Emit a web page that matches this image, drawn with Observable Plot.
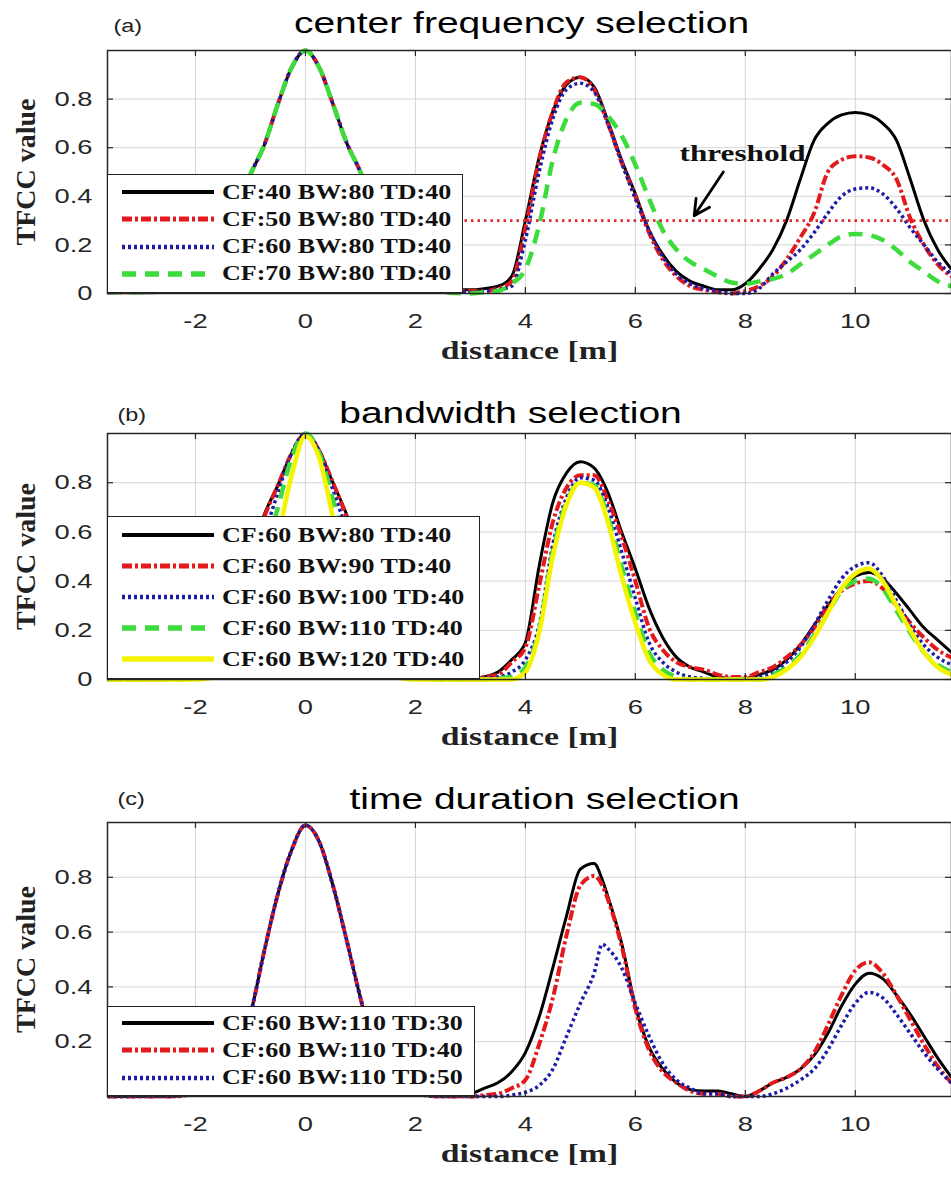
<!DOCTYPE html>
<html><head><meta charset="utf-8">
<script src="https://cdn.jsdelivr.net/npm/d3@7"></script>
<script src="https://cdn.jsdelivr.net/npm/@observablehq/plot@0.6"></script>
<style>
html,body{margin:0;padding:0;background:#fff;}
#page{position:relative;width:951px;height:1178px;overflow:hidden;background:#fff;}
.panel{position:absolute;left:0;}
.legend{position:absolute;background:#fff;border:1.5px solid #222;box-sizing:border-box;}
.row{position:absolute;left:0;display:flex;align-items:center;}
.row span{display:inline-block;font-family:"Liberation Serif","Times New Roman",serif;font-weight:bold;font-size:20px;color:#111;transform:scaleX(1.3);transform-origin:left center;white-space:nowrap;}
</style></head><body><div id="page"></div><script>
// ---------- data ----------
const xTicks = [-2, 0, 2, 4, 6, 8, 10];
const yTicksAB = [0, 0.2, 0.4, 0.6, 0.8];
const yTicksC = [0.2, 0.4, 0.6, 0.8];
const panelTags = ["(a)", "(b)", "(c)"];
const panelTitles = ["center frequency selection", "bandwidth selection", "time duration selection"];
const xLabel = ["distance [m]"];
const yLabel = ["TFCC value"];

const namesA = ["CF:40 BW:80 TD:40", "CF:50 BW:80 TD:40", "CF:60 BW:80 TD:40", "CF:70 BW:80 TD:40"];
const namesB = ["CF:60 BW:80 TD:40", "CF:60 BW:90 TD:40", "CF:60 BW:100 TD:40", "CF:60 BW:110 TD:40", "CF:60 BW:120 TD:40"];
const namesC = ["CF:60 BW:110 TD:30", "CF:60 BW:110 TD:40", "CF:60 BW:110 TD:50"];

const distAB = [-3.6,-3,-2.5,-2,-1.75,-1.5,-1.25,-1,-0.75,-0.5,-0.25,0,0.25,0.5,0.75,1,1.25,1.5,1.75,2,2.5,3,3.25,3.5,3.75,4,4.25,4.5,4.75,5,5.25,5.5,5.75,6,6.25,6.5,6.75,7,7.25,7.5,7.75,8,8.25,8.5,8.75,9,9.25,9.5,9.75,10,10.25,10.5,10.75,11,11.25,11.5,11.75];
const distC = [-3.6,-3,-2.5,-2,-1.75,-1.5,-1.25,-1,-0.75,-0.5,-0.25,0,0.25,0.5,0.75,1,1.25,1.5,1.75,2,2.5,3,3.25,3.5,3.75,4,4.25,4.5,4.75,5,5.25,5.4,5.5,5.75,6,6.25,6.5,6.75,7,7.25,7.5,7.75,8,8.25,8.5,8.75,9,9.25,9.5,9.75,10,10.25,10.5,10.75,11,11.25,11.5,11.75];

// (a) center frequency
const cf40 = [0.005,0.005,0.01,0.04,0.1,0.2,0.34,0.49,0.61,0.78,0.93,1.0,0.93,0.78,0.62,0.5,0.35,0.2,0.1,0.04,0.015,
  0.015,0.02,0.03,0.07,0.3,0.56,0.75,0.86,0.89,0.85,0.71,0.55,0.41,0.26,0.16,0.09,0.05,0.03,0.015,0.015,0.04,0.1,0.18,0.3,0.47,0.63,0.7,0.735,0.745,0.735,0.7,0.63,0.47,0.3,0.18,0.1];
const cf50 = [0.005,0.005,0.01,0.04,0.1,0.2,0.34,0.49,0.61,0.78,0.93,1.0,0.93,0.78,0.62,0.5,0.35,0.2,0.1,0.04,0.01,
  0.01,0.01,0.02,0.05,0.27,0.55,0.75,0.87,0.89,0.84,0.7,0.54,0.4,0.25,0.14,0.07,0.03,0.015,0.005,0.0,0.01,0.03,0.07,0.14,0.23,0.33,0.5,0.55,0.565,0.56,0.53,0.47,0.31,0.2,0.12,0.07];
const cf60 = [0.005,0.005,0.01,0.04,0.1,0.2,0.34,0.49,0.61,0.78,0.93,1.0,0.93,0.78,0.62,0.5,0.35,0.2,0.1,0.04,0.01,
  0.005,0.01,0.015,0.03,0.22,0.5,0.72,0.84,0.865,0.83,0.7,0.54,0.39,0.26,0.15,0.08,0.04,0.02,0.01,0.0,0.0,0.02,0.08,0.13,0.18,0.25,0.33,0.4,0.43,0.435,0.41,0.35,0.27,0.2,0.13,0.08];
const cf70 = [0.005,0.005,0.01,0.04,0.1,0.2,0.34,0.49,0.61,0.78,0.93,1.0,0.93,0.78,0.62,0.5,0.35,0.2,0.1,0.04,0.005,
  0.0,0.005,0.01,0.04,0.1,0.28,0.55,0.72,0.785,0.78,0.73,0.65,0.53,0.39,0.26,0.18,0.13,0.1,0.07,0.045,0.04,0.05,0.06,0.08,0.12,0.16,0.2,0.235,0.245,0.24,0.22,0.18,0.13,0.09,0.05,0.03];

// (b) bandwidth
const bw80 = [0,0,0.005,0.02,0.05,0.14,0.3,0.5,0.67,0.79,0.92,1.0,0.93,0.8,0.67,0.5,0.3,0.14,0.05,0.02,0.005,
  0.0,0.01,0.03,0.08,0.15,0.46,0.72,0.84,0.885,0.86,0.76,0.6,0.45,0.29,0.17,0.09,0.05,0.03,0.01,0.005,0.005,0.02,0.04,0.08,0.14,0.22,0.3,0.37,0.42,0.435,0.41,0.35,0.28,0.21,0.16,0.11];
const bw90 = [0,0,0.005,0.02,0.05,0.13,0.29,0.49,0.66,0.79,0.92,1.0,0.93,0.8,0.66,0.49,0.29,0.13,0.05,0.02,0.005,
  0.0,0.01,0.02,0.07,0.13,0.38,0.64,0.78,0.83,0.83,0.73,0.58,0.4,0.21,0.12,0.07,0.05,0.04,0.02,0.01,0.01,0.03,0.05,0.09,0.14,0.21,0.3,0.36,0.39,0.4,0.37,0.3,0.23,0.17,0.12,0.09];
const bw100 = [0,0,0,0.01,0.03,0.07,0.16,0.35,0.58,0.76,0.92,1.0,0.93,0.77,0.6,0.36,0.17,0.06,0.02,0.01,0,
  0.0,0.005,0.01,0.03,0.08,0.22,0.55,0.74,0.82,0.81,0.7,0.52,0.33,0.15,0.07,0.03,0.01,0.005,0.0,0.0,0.0,0.01,0.03,0.07,0.13,0.22,0.32,0.41,0.46,0.475,0.42,0.32,0.22,0.14,0.09,0.06];
const bw110 = [0,0,0,0.005,0.02,0.04,0.12,0.3,0.5,0.7,0.9,1.0,0.92,0.73,0.52,0.31,0.13,0.04,0.01,0.005,0,
  0,0,0.005,0.01,0.05,0.2,0.52,0.72,0.8,0.79,0.66,0.46,0.27,0.11,0.04,0.01,0,0,0,0,0,0,0.02,0.05,0.1,0.18,0.27,0.36,0.4,0.41,0.37,0.28,0.19,0.11,0.06,0.03];
const bw120 = [0,0,0,0,0.005,0.02,0.07,0.2,0.38,0.58,0.83,0.99,0.9,0.66,0.42,0.22,0.08,0.02,0.005,0,0,
  0,0,0,0,0.03,0.19,0.5,0.71,0.8,0.78,0.64,0.42,0.23,0.08,0.02,0,0,0,0,0,0,0,0.01,0.04,0.09,0.17,0.27,0.37,0.43,0.45,0.4,0.3,0.2,0.11,0.05,0.02];

// (c) time duration
const td30 = [0,0,0,0.01,0.03,0.07,0.15,0.3,0.53,0.74,0.9,0.99,0.93,0.77,0.57,0.36,0.18,0.08,0.03,0.01,0,
  0.01,0.03,0.05,0.09,0.16,0.29,0.47,0.66,0.83,0.85,0.79,0.73,0.56,0.33,0.18,0.1,0.05,0.025,0.02,0.02,0.01,0.0,0.02,0.05,0.07,0.1,0.15,0.23,0.33,0.41,0.45,0.43,0.37,0.3,0.22,0.14,0.07];
const td40 = [0,0,0,0.01,0.03,0.07,0.15,0.3,0.53,0.74,0.9,0.99,0.93,0.77,0.57,0.36,0.18,0.08,0.03,0.01,0,
  0.0,0.005,0.01,0.03,0.06,0.19,0.36,0.59,0.77,0.805,0.77,0.72,0.55,0.32,0.17,0.09,0.05,0.02,0.01,0.01,0.0,0.0,0.02,0.05,0.07,0.1,0.16,0.26,0.37,0.46,0.49,0.45,0.37,0.28,0.19,0.11,0.05];
const td50 = [0,0,0,0.01,0.03,0.07,0.15,0.3,0.53,0.74,0.9,0.99,0.93,0.77,0.57,0.36,0.18,0.08,0.03,0.01,0,
  0.0,0.0,0.0,0.005,0.015,0.04,0.1,0.22,0.34,0.45,0.556,0.54,0.47,0.34,0.22,0.12,0.06,0.03,0.01,0.01,0.0,0.0,0.0,0.01,0.03,0.06,0.1,0.17,0.26,0.34,0.38,0.36,0.3,0.23,0.16,0.1,0.05];

// threshold annotation (panel a)
const thresholdValue = [0.3];
const noteText = ["threshold"];
const noteX = [7.95], noteY = [0.575];
const arrowX1 = [7.6], arrowY1 = [0.5], arrowX2 = [7.07], arrowY2 = [0.32];

// ---------- styles / layout ----------
const styles = {
  black:  {stroke: "#000000", width: 3,   dash: null},
  red:    {stroke: "#e3191c", width: 4,   dash: "10,3,3,3"},
  blue:   {stroke: "#1c1ca8", width: 3.5, dash: "3,3"},
  green:  {stroke: "#3ddc3d", width: 4.5, dash: "14,9"},
  yellow: {stroke: "#f4f400", width: 4.5, dash: null}
};
const W = 951, ML = 107, MR = 0;
const xDomain = [-3.6, 11.75];

const panels = [
  {top: 0, height: 380, mt: 50, mb: 87, xs: distAB, yTicks: yTicksAB, tag: panelTags[0], title: panelTitles[0],
   titleDx: -8, titleDy: -18, tagDx: 6, tagDy: -18.5, threshold: true,
   legend: {top: 174, width: 356, height: 119, pad: 5},
   series: [[namesA[0], cf40, "black"], [namesA[1], cf50, "red"], [namesA[2], cf60, "blue"], [namesA[3], cf70, "green"]]},
  {top: 380, height: 390, mt: 53, mb: 91, xs: distAB, yTicks: yTicksAB, tag: panelTags[1], title: panelTitles[1],
   titleDx: -19, titleDy: -11, tagDx: 10, tagDy: -13, threshold: false,
   legend: {top: 516, width: 373, height: 163, pad: 4},
   series: [[namesB[0], bw80, "black"], [namesB[1], bw90, "red"], [namesB[2], bw100, "blue"], [namesB[3], bw110, "green"], [namesB[4], bw120, "yellow"]]},
  {top: 770, height: 408, mt: 52, mb: 82, xs: distC, yTicks: yTicksC, tag: panelTags[2], title: panelTitles[2],
   titleDx: 15, titleDy: -14, tagDx: 10, tagDy: -17.5, threshold: false,
   legend: {top: 1006, width: 368, height: 90, pad: 4},
   series: [[namesC[0], td30, "black"], [namesC[1], td40, "red"], [namesC[2], td50, "blue"]]}
];

const page = document.getElementById("page");

function drawPanel(p) {
  const innerH = p.height - p.mt - p.mb;
  const innerW = W - ML - MR;
  const marks = [
    Plot.ruleX(xTicks, {x: d => d, stroke: "#d6d6d6", strokeWidth: 1}),
    Plot.ruleY(p.yTicks, {y: d => d, stroke: "#d6d6d6", strokeWidth: 1})
  ];
  for (const [name, vals, sty] of p.series) {
    const st = styles[sty];
    marks.push(Plot.line(p.xs.map((x, i) => ({x, y: vals[i]})), {
      x: "x", y: "y", stroke: st.stroke, strokeWidth: st.width,
      strokeDasharray: st.dash || undefined, curve: "monotone-x",
      strokeLinecap: "butt", strokeLinejoin: "round"
    }));
  }
  if (p.threshold) {
    marks.push(Plot.ruleY(thresholdValue, {y: d => d, stroke: "#e0282c", strokeWidth: 2.8, strokeDasharray: "2.5,4"}));
    marks.push(Plot.text(noteText, {x: noteX, y: noteY, text: d => d, fontFamily: "'Liberation Serif', serif", fontWeight: "bold", fontSize: 24, fill: "#111"}));
    marks.push(Plot.arrow(noteText, {x1: arrowX1, y1: arrowY1, x2: arrowX2, y2: arrowY2, stroke: "#000", strokeWidth: 2.8, headLength: 16, headAngle: 55}));
  }
  marks.push(
    Plot.frame({stroke: "#262626", strokeWidth: 1.5}),
    Plot.tickX(xTicks, {x: d => d, insetTop: innerH - 6, stroke: "#262626", strokeWidth: 1.2}),
    Plot.tickX(xTicks, {x: d => d, insetBottom: innerH - 6, stroke: "#262626", strokeWidth: 1.2}),
    Plot.tickY(p.yTicks, {y: d => d, insetRight: innerW - 6, stroke: "#262626", strokeWidth: 1.2}),
    Plot.tickY(p.yTicks, {y: d => d, insetLeft: innerW - 6, stroke: "#262626", strokeWidth: 1.2}),
    Plot.text([p.title], {frameAnchor: "top", dx: p.titleDx, dy: p.titleDy, lineAnchor: "bottom", text: d => d,
      fontFamily: "'Liberation Sans', Arial, sans-serif", fontSize: 30, fill: "#000"}),
    Plot.text([p.tag], {frameAnchor: "top-left", textAnchor: "start", dx: p.tagDx, dy: p.tagDy, lineAnchor: "bottom", text: d => d,
      fontFamily: "'Liberation Sans', Arial, sans-serif", fontSize: 18, fill: "#222"}),
    Plot.text(xLabel, {frameAnchor: "bottom", dy: 65, lineAnchor: "bottom", text: d => d,
      fontFamily: "'Liberation Serif', serif", fontWeight: "bold", fontSize: 26, fill: "#222"}),
    Plot.text(yLabel, {frameAnchor: "left", textAnchor: "middle", dx: -81, rotate: -90, lineAnchor: "middle", text: d => d,
      fontFamily: "'Liberation Serif', serif", fontWeight: "bold", fontSize: 28, fill: "#222"})
  );
  const svg = Plot.plot({
    width: W, height: p.height,
    marginLeft: ML, marginRight: MR, marginTop: p.mt, marginBottom: p.mb,
    x: {domain: xDomain, ticks: xTicks, tickSize: 0, tickPadding: 20, tickFormat: d => String(d), label: null},
    y: {domain: [0, 1], ticks: p.yTicks, tickSize: 0, tickPadding: 15, tickFormat: d => String(d), label: null},
    style: {fontFamily: "'Liberation Sans', Arial, sans-serif", fontSize: "21px", color: "#262626", background: "transparent", overflow: "visible"},
    marks
  });
  const holder = document.createElement("div");
  holder.className = "panel";
  holder.style.top = p.top + "px";
  holder.appendChild(svg);
  page.appendChild(holder);

  // legend
  const L = p.legend;
  const box = document.createElement("div");
  box.className = "legend";
  Object.assign(box.style, {left: ML + "px", top: L.top + "px", width: L.width + "px", height: L.height + "px"});
  const n = p.series.length;
  const rowH = (L.height - 2 * L.pad) / n;
  p.series.forEach(([name, vals, sty], i) => {
    const st = styles[sty];
    const row = document.createElement("div");
    row.className = "row";
    row.style.top = (L.pad + rowH * i - 1.5) + "px";
    row.style.height = rowH + "px";
    row.innerHTML = `<svg width="92" height="14" style="margin-left:14px;flex:none"><line x1="0" y1="7" x2="92" y2="7" stroke="${st.stroke}" stroke-width="${st.width + 1}" ${st.dash ? `stroke-dasharray="${st.dash}"` : ""}/></svg><span style="margin-left:8px">${name}</span>`;
    box.appendChild(row);
  });
  page.appendChild(box);
}

panels.forEach(drawPanel);

// widen the horizontal lettering to the reference's proportions
document.querySelectorAll("#page svg text").forEach(t => {
  if ((t.getAttribute("transform") || "").includes("rotate")) return;
  const len = t.getComputedTextLength();
  if (!len) return;
  t.setAttribute("textLength", len * 1.3);
  t.setAttribute("lengthAdjust", "spacingAndGlyphs");
});
</script></body></html>
